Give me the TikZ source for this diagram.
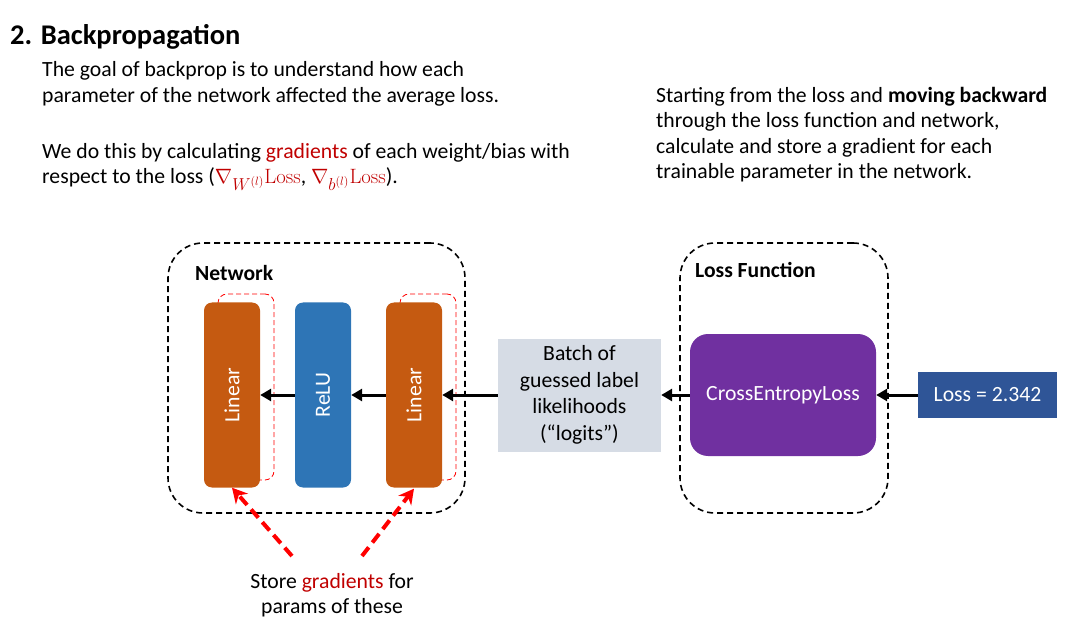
\documentclass[tikz,border=0pt]{standalone}
\usepackage[no-math]{fontspec}
\setmainfont{Carlito}
\usepackage{amsmath}
\DeclareMathSizes{21.7}{21.7}{16}{12}
\usetikzlibrary{arrows.meta}
\definecolor{linorange}{HTML}{C55A11}
\definecolor{relublue}{HTML}{2E75B6}
\definecolor{lossblue}{HTML}{2F5597}
\definecolor{cepurple}{HTML}{7030A0}
\definecolor{logitgray}{HTML}{D6DCE5}
\definecolor{gradred}{HTML}{C00000}
\newcommand{\gradtxt}[1]{\textcolor{gradred}{#1}}

\tikzset{
  layer/.style={rounded corners=8pt, minimum width=185pt, minimum height=56pt,
    inner sep=0pt, text=white, rotate=90},
  gradbox/.style={draw=red, rounded corners=9pt, line width=0.8pt,
    dash pattern=on 5pt off 3pt, minimum width=56pt, minimum height=186pt},
  group/.style={draw, line width=1.6pt, dash pattern=on 6pt off 4pt,
    rounded corners=35pt},
  back/.style={-{Triangle[length=11pt,width=12pt]}, line width=3pt},
  store/.style={-{Stealth[length=15pt,width=16pt]}, line width=4pt, red,
    dash pattern=on 11pt off 6pt},
  para/.style={inner sep=0pt, align=left, anchor=north west},
  grouplabel/.style={anchor=base west, inner sep=0pt, font=\bfseries\fontsize{21.6}{25}\selectfont},
}

\begin{document}
\begin{tikzpicture}[x=1pt, y=-1pt, font=\fontsize{21.7}{25.5}\selectfont]
    \useasboundingbox (0,0) rectangle (1068,620);

    % texts on top
    \node[anchor=base west, inner sep=0pt, font=\bfseries\fontsize{28.5}{32}\selectfont] (title) at (10,45) {2. Backpropagation};
    \node[para] (goal) at (42,61.6) {The goal of backprop is to understand how each\\
      parameter of the network affected the average loss.};
    \node[para] (how) at (42,142.8) {We do this by calculating \gradtxt{gradients} of each weight/bias with\\
      respect to the loss (\gradtxt{$\nabla_{W^{(l)}}\mathrm{Loss}$}, \gradtxt{$\nabla_{b^{(l)}}\mathrm{Loss}$}).};
    \node[para] (start) at (656,86.8) {Starting from the loss and \textbf{moving backward}\\
      through the loss function and network,\\
      calculate and store a gradient for each\\
      trainable parameter in the network.};

    % network
    \node[group, minimum width=297pt, minimum height=270pt] (net) at (316.5,378) {};
    \node[grouplabel] (netlabel) at (195,280) {Network};
    \node[gradbox] (gbox1) at (246,387) {};
    \node[gradbox] (gbox2) at (428,387) {};
    \node[layer, fill=linorange] (lin1) at (232,395) {Linear};
    \node[layer, fill=relublue] (relu) at (323,395) {ReLU};
    \node[layer, fill=linorange] (lin2) at (414,395) {Linear};

    \node[fill=logitgray, minimum width=163pt, minimum height=113pt, align=center,
      font=\fontsize{21.7}{26.5}\selectfont] (logits) at (579.5,395)
      {Batch of\\guessed label\\likelihoods\\(“logits”)};

    % loss function
    \node[group, minimum width=208pt, minimum height=270pt] (lossfn) at (784,378) {};
    \node[grouplabel] (losslabel) at (695,278) {Loss Function};
    \node[fill=cepurple, rounded corners=18pt, minimum width=186pt, minimum height=122pt,
      text=white] (ce) at (783,395) {CrossEntropyLoss};
    \node[fill=lossblue, minimum width=139pt, minimum height=46pt, text=white] (loss) at (987.5,395) {Loss = 2.342};

    \draw[back] (loss) -- (ce);
    \draw[back] (ce) -- (logits);
    \draw[back] (logits) -- (lin2);
    \draw[back] (lin2) -- (relu);
    \draw[back] (relu) -- (lin1);

    % gradients note
    \node[align=center] (storetxt) at (332,595) {Store \gradtxt{gradients} for\\params of these};
    \coordinate (s1) at (292,556);
    \coordinate (s2) at (362,556);
    \draw[store] (s1) -- (lin1.west);
    \draw[store] (s2) -- ([yshift=-1pt]lin2.west);
\end{tikzpicture}
\end{document}
